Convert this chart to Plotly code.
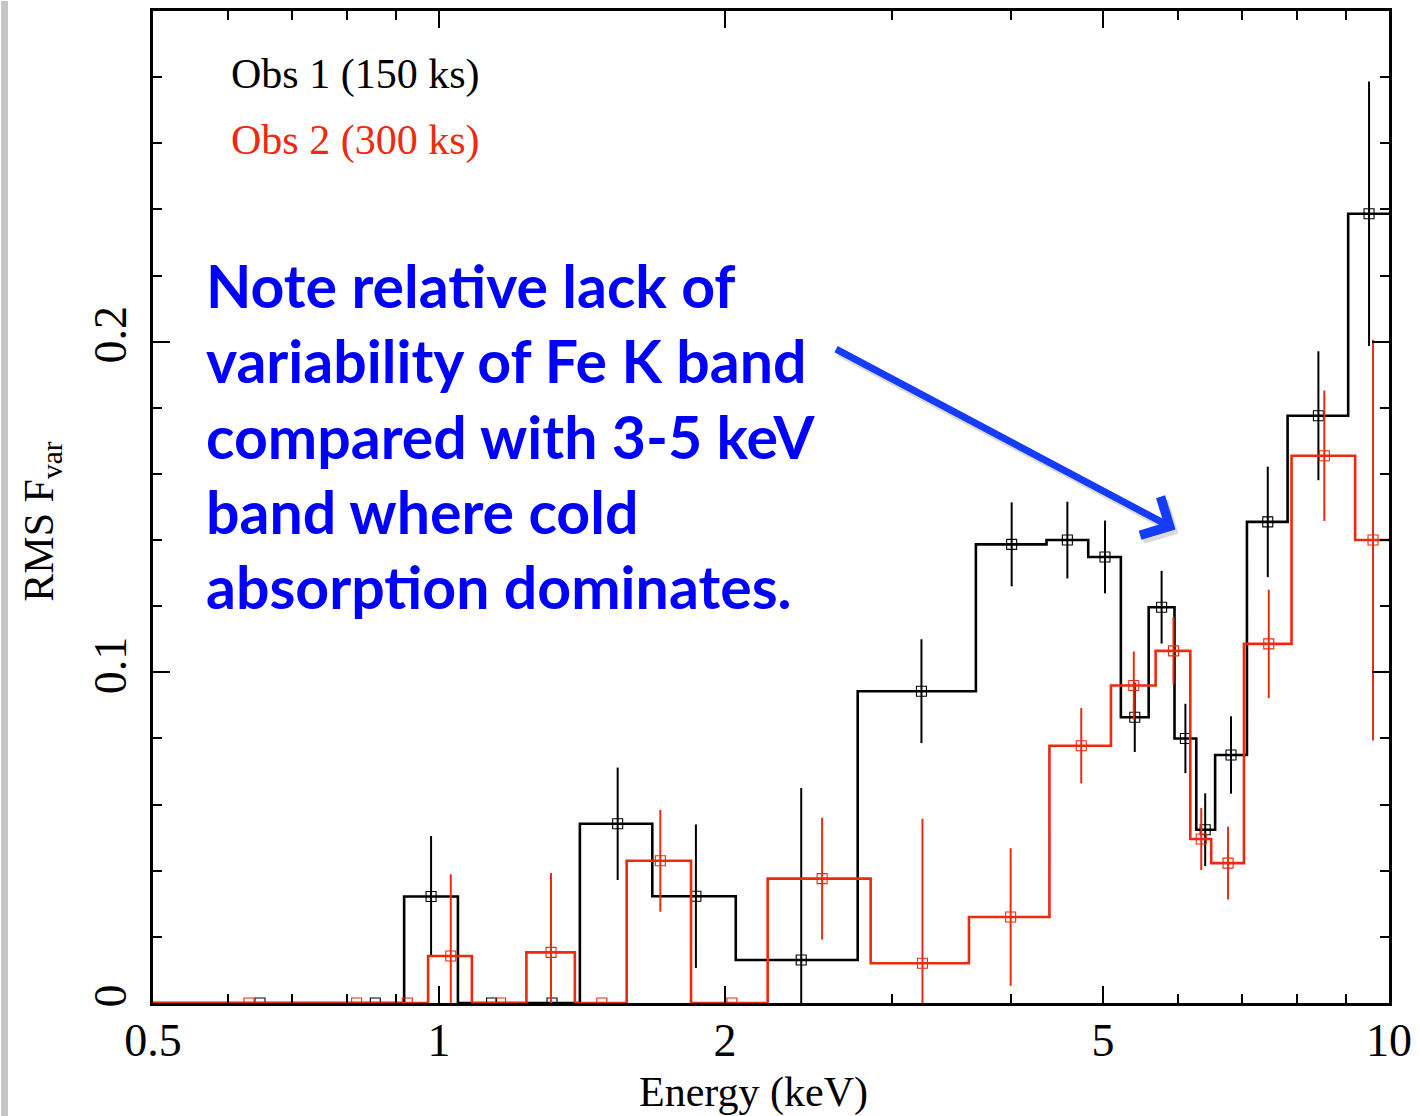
import plotly.graph_objects as go

# ---- Obs 1 (150 ks): bin lower edges (keV), bin energies, Fvar and 1-sigma errors ----
obs1_lo = [0.5, 0.747, 0.919, 1.047, 1.224, 1.407, 1.677, 2.053, 2.759, 3.674,
           4.360, 4.824, 5.221, 5.585, 5.946, 6.268, 6.561, 7.087, 7.821, 9.058]
obs1_energy = [0.648, 0.857, 0.981, 1.136, 1.315, 1.542, 1.864, 2.406, 3.220, 4.007,
               4.586, 5.024, 5.400, 5.763, 6.105, 6.405, 6.819, 7.454, 8.427, 9.528]
obs1_fvar = [0.0, 0.0, 0.0322, 0.0, 0.0, 0.0542, 0.0323, 0.013, 0.0943, 0.1387,
             0.140, 0.1349, 0.0864, 0.1197, 0.080, 0.0524, 0.075, 0.1455, 0.1776, 0.2387]
obs1_err = [0.0, 0.0, 0.0183, 0.0, 0.0, 0.017, 0.0217, 0.052, 0.0157, 0.0127,
            0.0116, 0.011, 0.0105, 0.011, 0.0105, 0.011, 0.0117, 0.0167, 0.0195, 0.040]

# ---- Obs 2 (300 ks) ----
obs2_lo = [0.5, 0.712, 0.874, 0.974, 1.083, 1.236, 1.390, 1.576, 1.842, 2.218,
           2.847, 3.613, 4.391, 5.097, 5.680, 6.178, 6.499, 7.036, 7.896, 9.212]
obs2_energy = [0.631, 0.819, 0.926, 1.029, 1.161, 1.312, 1.484, 1.710, 2.034, 2.531,
               3.228, 3.997, 4.743, 5.387, 5.931, 6.344, 6.770, 7.472, 8.549, 9.620]
obs2_fvar = [0.0, 0.0, 0.0, 0.0142, 0.0, 0.0153, 0.0, 0.043, 0.0, 0.0376,
             0.012, 0.026, 0.0778, 0.096, 0.1065, 0.0496, 0.0423, 0.1086, 0.1655, 0.140]
obs2_err = [0.0, 0.0, 0.0, 0.0247, 0.0, 0.024, 0.0, 0.0154, 0.0, 0.0184,
            0.0437, 0.0208, 0.0114, 0.0103, 0.0102, 0.0094, 0.011, 0.0164, 0.0197, 0.0606]

e_max = 10.0

x_tickvals = [0.5, 1, 2, 5, 10]
x_ticktext = ["0.5", "1", "2", "5", "10"]
x_minor = [0.6, 0.7, 0.8, 0.9, 3, 4, 6, 7, 8, 9]
y_tickvals = [0, 0.1, 0.2]
y_ticktext = ["0", "0.1", "0.2"]
y_minor = [0.02, 0.04, 0.06, 0.08, 0.12, 0.14, 0.16, 0.18, 0.22, 0.24, 0.26, 0.28]

BLACK = "#000000"
RED = "#ec2a0e"
SERIF = "Liberation Serif"

fig = go.Figure()


def add_series(lo, energy, fvar, err, color):
    # histogram outline
    fig.add_trace(go.Scatter(
        x=lo + [e_max], y=fvar + [fvar[-1]], mode="lines",
        line=dict(color=color, width=2.6, shape="hv"),
        hoverinfo="skip", showlegend=False))
    # bin values with error bars (clipped at zero)
    err_minus = [min(e, v) for e, v in zip(err, fvar)]
    fig.add_trace(go.Scatter(
        x=energy, y=fvar, mode="markers",
        marker=dict(symbol="square-open", size=10, color=color,
                    line=dict(color=color, width=1.1)),
        error_y=dict(type="data", array=err, arrayminus=err_minus,
                     symmetric=False, color=color, thickness=2, width=0),
        showlegend=False))


add_series(obs1_lo, obs1_energy, obs1_fvar, obs1_err, BLACK)
add_series(obs2_lo, obs2_energy, obs2_fvar, obs2_err, RED)

axis_common = dict(
    showline=True, linecolor="black", linewidth=2.5, mirror="allticks",
    ticks="inside", ticklen=17, tickwidth=2, tickcolor="black",
    showgrid=False, zeroline=False, ticklabeloverflow="allow",
    tickfont=dict(family=SERIF, size=46, color="black"),
)

fig.update_xaxes(
    type="log", range=[-0.30103, 1.0],
    tickmode="array", tickvals=x_tickvals, ticktext=x_ticktext,
    minor=dict(tickmode="array", tickvals=x_minor, ticks="inside",
               ticklen=9, tickwidth=2, tickcolor="black"),
    ticklabelstandoff=-5,
    **axis_common)
fig.update_yaxes(
    range=[0, 0.3],
    tickmode="array", tickvals=y_tickvals, ticktext=y_ticktext, tickangle=-90,
    minor=dict(tickmode="array", tickvals=y_minor, ticks="inside",
               ticklen=9, tickwidth=2, tickcolor="black"),
    ticklabelstandoff=6,
    **axis_common)

annotations = [
    # axis titles
    dict(x=0.486, y=-0.0905, xref="paper", yref="paper", text="Energy (keV)",
         showarrow=False, xanchor="center", yanchor="middle",
         font=dict(family=SERIF, size=42, color="black")),
    dict(x=-0.09, y=0.485, xref="paper", yref="paper", text="RMS F<sub>var</sub>",
         textangle=-90, showarrow=False, xanchor="center", yanchor="middle",
         font=dict(family=SERIF, size=42, color="black")),
    # observation labels
    dict(x=0.0618, y=0.9357, xref="paper", yref="paper", text="Obs 1 (150 ks)",
         showarrow=False, xanchor="left", yanchor="middle",
         font=dict(family=SERIF, size=42, color=BLACK)),
    dict(x=0.0618, y=0.8693, xref="paper", yref="paper", text="Obs 2 (300 ks)",
         showarrow=False, xanchor="left", yanchor="middle",
         font=dict(family=SERIF, size=42, color=RED)),
    # arrow shadow and arrow pointing at the Fe K band
    dict(x=0.8297, y=0.4734, xref="paper", yref="paper", text="",
         showarrow=True, ax=-341, ay=-181, arrowhead=4, arrowsize=1.2,
         arrowwidth=7, arrowcolor="rgba(90,90,90,0.22)", standoff=0),
    dict(x=0.8273, y=0.4774, xref="paper", yref="paper", text="",
         showarrow=True, ax=-341, ay=-181, arrowhead=4, arrowsize=1.2,
         arrowwidth=7, arrowcolor="#143cfa", standoff=0),
]

note_lines = [
    "Note relative lack of",
    "variability of Fe K band",
    "compared with 3-5 keV",
    "band where cold",
    "absorption dominates.",
]
note_y = [0.7236, 0.6473, 0.5713, 0.4959, 0.4196]
for line, yy in zip(note_lines, note_y):
    annotations.append(dict(
        x=0.041, y=yy, xref="paper", yref="paper", text=line,
        showarrow=False, xanchor="left", yanchor="middle",
        font=dict(family="Lato", size=59, color="#0000ff", weight=700)))

fig.update_layout(
    width=1420, height=1116,
    margin=dict(l=153, r=19, t=8, b=113),
    paper_bgcolor="white", plot_bgcolor="white",
    annotations=annotations,
    shapes=[dict(type="rect", xref="paper", yref="paper",
                 x0=-0.1229, x1=-0.1173, y0=-0.12, y1=1.01,
                 fillcolor="#c4c4c4", line=dict(width=0), layer="below")],
)

fig.write_html("out.html")
